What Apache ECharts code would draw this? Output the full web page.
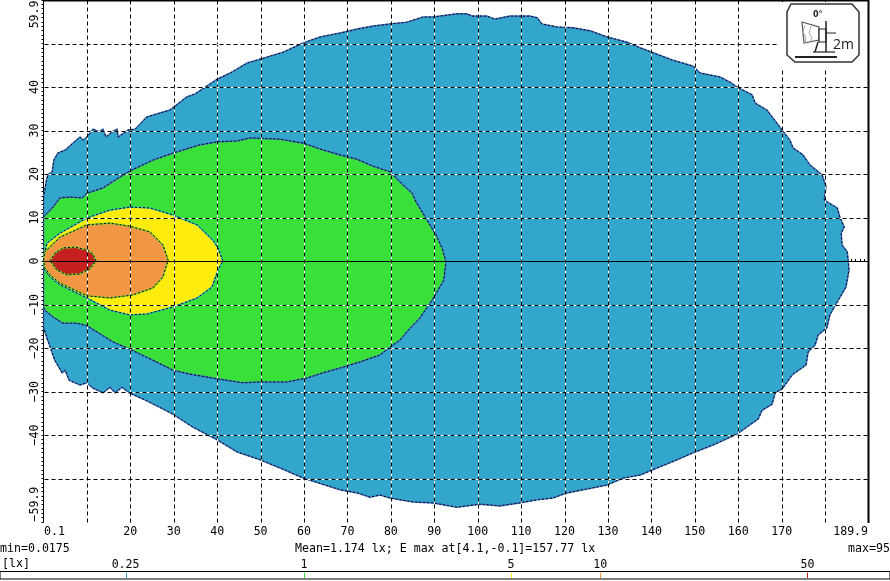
<!DOCTYPE html>
<html><head><meta charset="utf-8">
<style>html,body{margin:0;padding:0;background:#fff}#c{width:890px;height:581px}</style>
<script src="https://cdn.jsdelivr.net/npm/echarts@6/dist/echarts.min.js"></script>
</head><body><div id="c"></div>
<script>
const ZONE_BLUE=[[0,14.5],[0.6,18.2],[1,19.8],[2,20.5],[2.4,23.2],[3.3,24.8],[5,25.5],[6.8,27.1],[8.4,28.5],[9.1,27.8],[10,28.5],[11.4,30.3],[12.8,29.7],[13.7,30.3],[14.4,28.5],[15.8,29.7],[16.9,30.3],[17.2,28.5],[19.5,30.1],[21.1,30.3],[23.8,33.1],[29.1,34.7],[33,37.7],[34.9,38.4],[40,41.8],[43,43.2],[46.9,45.5],[49.9,46.4],[55.2,48],[59.8,50.1],[63.7,51.5],[68.3,52.4],[72.2,53.3],[75.9,54],[79.8,54.5],[83.7,54.9],[87.4,56.1],[89.7,56.1],[95.2,56.8],[97.5,56.8],[98.7,56.3],[102.1,56.3],[104,55.6],[107.4,56.3],[112,56.3],[113.7,55.9],[114.8,54.5],[118.3,53.8],[122,53.6],[125.9,52.9],[129.8,51.5],[134.4,50.3],[137.4,49],[144.8,46.2],[149.6,44.8],[151.2,43.2],[155.8,42.3],[158.1,41.1],[160,39.8],[163.2,38.2],[163.9,36.3],[166.6,34.7],[170.1,30.1],[171.9,27.8],[172.6,26],[174.9,24.4],[176.5,22.1],[179.3,19.8],[180.2,17.2],[179.8,14],[182.8,12.2],[183.4,10.1],[184.4,7.8],[183.7,6.4],[183.9,3.7],[185.1,2.1],[185.3,0.2],[185.5,-2.1],[184.8,-6],[182.8,-9.4],[181.1,-12.4],[180.4,-15.4],[178.4,-17],[177.7,-19.3],[176.1,-20.9],[175.6,-23.9],[172.4,-26.2],[170.1,-29.4],[168.5,-30.3],[167.8,-32.9],[165.5,-34.3],[164.6,-36.3],[159.7,-39.8],[154.2,-42.3],[149.6,-44.1],[145.9,-45.7],[137.4,-49.2],[133.5,-49.9],[129.8,-51.5],[125.2,-52.4],[120.6,-53.3],[117.3,-54.5],[113.7,-54.9],[109.7,-55.6],[105.1,-56.3],[100.5,-55.9],[95.2,-56.6],[89.7,-55.6],[85.1,-55.4],[79.8,-54.5],[77.5,-53.8],[75.2,-54.3],[72.2,-53.3],[68.3,-52.6],[59.8,-49.9],[54.5,-47.6],[49.9,-45.7],[44.6,-43.9],[40,-41.1],[34.4,-38.2],[29.8,-35.2],[26.1,-33.3],[22.9,-31.7],[19.7,-30.3],[18.1,-29],[16.5,-30.3],[15.3,-29],[13.7,-30.3],[11.4,-29.2],[10,-28],[8.4,-28.5],[5.9,-27.4],[5,-25.1],[4.3,-25.7],[2.6,-22.8],[0.8,-17.7],[0,-15.2]];
const ZONE_GREEN=[[0,10.1],[2.2,12.4],[3.8,14.5],[6.1,14.7],[8.9,14.5],[10,15.6],[13.7,16.8],[17.6,19.3],[19.9,20.7],[25.2,23.2],[29.8,24.8],[36,26.7],[40.2,27.4],[44.6,27.6],[47.6,28.3],[54.5,28],[59.8,27.1],[64.4,25.5],[68.3,24.4],[72.2,23.4],[75.9,21.8],[79.8,20.5],[82.8,17.5],[84.9,15.6],[85.8,13.6],[89,8.3],[90.4,6],[91.8,3],[92.7,-0.2],[92.2,-4.4],[89.5,-9],[86.7,-13.1],[84,-15.9],[82.1,-18.2],[79.8,-19.8],[77.5,-21.6],[72.9,-23.2],[68.3,-24.6],[64.4,-25.7],[60.7,-26.9],[56.1,-27.8],[49.9,-27.8],[45.9,-28],[40,-27.1],[33.7,-26],[29.8,-25.1],[25.2,-22.8],[19.7,-20.2],[16,-18.6],[10,-14.9],[7.7,-14.3],[6.1,-14.3],[4.5,-14.3],[2.2,-12.9],[0.3,-11.3],[0,-10.6]];
const ZONE_YELLOW=[[0,-0.2],[0.3,1.8],[0.8,4.1],[3.8,6.4],[10,9.9],[15.3,11.7],[19.9,12.4],[24.5,12.2],[29.8,10.6],[35.4,8.3],[39,4.8],[40.2,3],[41.3,0],[40.2,-2.1],[38.8,-6],[35.4,-8.5],[29.8,-10.6],[23.8,-12.2],[19.9,-12.4],[15.3,-11.3],[10,-8.5],[3.8,-5.5],[1.5,-3.7],[0.3,-2.1]];
const ZONE_ORANGE=[[0,0.2],[0.3,2.1],[3.8,5.5],[10,8.3],[15.3,8.7],[19.9,8],[24.5,6.7],[27.5,3.7],[28.7,0.2],[27.5,-3.7],[25.2,-6.2],[20.6,-7.8],[15.3,-8.5],[10,-8],[3.8,-5.1],[1.5,-3.2],[0.3,-1.6]];
const ZONE_RED=[[1.5,0],[2.6,1.8],[4.5,3],[7.3,3.2],[10.2,2.5],[11.4,1.6],[12.1,0],[10.7,-1.8],[8.4,-3],[5.4,-3.2],[3.1,-2.1]];
const X_LABELS=[0.1,20,30,40,50,60,70,80,90,100,110,120,130,140,150,160,170,189.9];
const Y_LABELS=[-59.9,-40,-30,-20,-10,0,10,20,30,40,59.9];
const GRID_X=[10,20,30,40,50,60,70,80,90,100,110,120,130,140,150,160,170,180];
const GRID_Y=[-50,-40,-30,-20,-10,10,20,30,40,50];
const LEVELS=[0.25,1,5,10,50];
const LEVEL_COLORS=['#33a6cc','#39e03a','#ffec0f','#f39644','#c4201f'];
const FONT='"DejaVu Sans Mono"';
const FS=11.6;

function zone(data,fill,edge,z){
  return {type:'custom',coordinateSystem:'cartesian2d',xAxisIndex:0,yAxisIndex:0,z:z,silent:true,clip:true,
    encode:{x:0,y:1},data:data,
    renderItem:function(p,api){
      if(p.dataIndex!==0) return null;
      const pts=data.map(d=>api.coord(d));
      return {type:'group',children:[
        {type:'polygon',shape:{points:pts},style:{fill:fill,stroke:edge,lineWidth:1.6}},
        {type:'polygon',shape:{points:pts},style:{fill:'none',stroke:'#000',lineWidth:1,lineDash:[2,2]}}
      ]};
    }};
}
function gridSeries(data,vertical){
  return {type:'custom',coordinateSystem:'cartesian2d',xAxisIndex:0,yAxisIndex:0,z:20,silent:true,
    encode:vertical?{x:0}:{y:0},data:data,
    renderItem:function(p,api){
      const v=api.value(0);
      const a=vertical?api.coord([v,60]):api.coord([0,v]);
      const b=vertical?api.coord([v,-60]):api.coord([190,v]);
      const s={x1:Math.round(a[0])+.5,y1:Math.round(a[1])+.5,x2:Math.round(b[0])+.5,y2:Math.round(b[1])+.5};
      return {type:'group',children:[
        {type:'line',shape:s,style:{stroke:'#fff',lineWidth:1}},
        {type:'line',shape:s,style:{stroke:'#000',lineWidth:1,lineDash:[4,3]}}
      ]};
    }};
}
const tx=(t,x,y,o)=>Object.assign({type:'text',z:103,silent:true,x:x,y:y,style:{text:t,font:FS+'px '+FONT,fill:'#000',textVerticalAlign:'middle'}},o||{});
const ln=(x1,y1,x2,y2,w,c)=>({type:'line',z:102,silent:true,shape:{x1,y1,x2,y2},style:{stroke:c||'#222',lineWidth:w||1}});

const chart=echarts.init(document.getElementById('c'),null,{renderer:'canvas'});
chart.setOption({
  animation:false,
  backgroundColor:'#fff',
  grid:[
    {left:43.5,top:0,width:825,height:522,show:false,outerBoundsMode:'none'},
    {left:0,top:571.5,width:890,height:7.5,show:true,backgroundColor:'#fff',borderColor:'#000',borderWidth:1,outerBoundsMode:'none'}
  ],
  xAxis:[
    {type:'value',gridIndex:0,min:0,max:190,interval:10,offset:1,silent:true,
      splitLine:{show:false},
      axisLine:{show:true,lineStyle:{color:'#000'}},
      axisTick:{show:true,inside:true,length:2,lineStyle:{color:'#000'}},
      minorTick:{show:true,splitNumber:10,length:2,lineStyle:{color:'#000'}},
      axisLabel:{show:true,customValues:X_LABELS,color:'#000',fontFamily:FONT,fontSize:FS,margin:3,
        alignMinLabel:'left',alignMaxLabel:'right',hideOverlap:false,showMinLabel:true,showMaxLabel:true,
        formatter:v=>String(v)}},
    {type:'log',gridIndex:1,min:0.0942,max:95,position:'top',silent:true,
      splitLine:{show:false},axisLine:{show:false},axisTick:{show:false},minorTick:{show:false},
      axisLabel:{show:true,customValues:LEVELS,color:'#000',fontFamily:FONT,fontSize:FS,margin:1,
        formatter:v=>String(v)}}
  ],
  yAxis:[
    {type:'value',gridIndex:0,min:-60,max:60,interval:10,silent:true,
      splitLine:{show:false},
      axisLine:{show:true,onZero:false,lineStyle:{color:'#000'}},
      axisTick:{show:true,length:2,lineStyle:{color:'#000'}},
      minorTick:{show:true,splitNumber:10,length:2,lineStyle:{color:'#000'}},
      axisLabel:{show:true,customValues:Y_LABELS,color:'#000',fontFamily:FONT,fontSize:FS,margin:3,rotate:90,
        alignMinLabel:'left',alignMaxLabel:'right',hideOverlap:false,showMinLabel:true,showMaxLabel:true,
        formatter:v=>String(v).replace('-','\u2212')}},
    {type:'value',gridIndex:1,min:0,max:1,show:false}
  ],
  series:[
    zone(ZONE_BLUE,'#33a6cc','#3e74c8',2),
    zone(ZONE_GREEN,'#39e03a','#3e74c8',3),
    zone(ZONE_YELLOW,'#ffec0f','#2fc0c0',4),
    zone(ZONE_ORANGE,'#f39644','#7fd030',5),
    zone(ZONE_RED,'#c4201f','#7fd030',6),
    gridSeries(GRID_X,true),
    gridSeries(GRID_Y,false),
    {type:'custom',coordinateSystem:'cartesian2d',xAxisIndex:0,yAxisIndex:0,z:21,silent:true,encode:{y:0},data:[0],
      renderItem:function(p,api){
        const a=api.coord([0,0]),b=api.coord([190,0]);
        return {type:'line',shape:{x1:a[0],y1:Math.floor(a[1])+.5,x2:b[0],y2:Math.floor(b[1])+.5},style:{stroke:'#000',lineWidth:1}};
      }},
    {type:'custom',coordinateSystem:'cartesian2d',xAxisIndex:1,yAxisIndex:1,z:5,silent:true,encode:{x:0},data:LEVELS,
      renderItem:function(p,api){
        const a=api.coord([api.value(0),0]),b=api.coord([api.value(0),1]);
        return {type:'line',shape:{x1:Math.round(a[0])+.5,y1:a[1]-1,x2:Math.round(a[0])+.5,y2:b[1]+1},style:{stroke:LEVEL_COLORS[p.dataIndex],lineWidth:1}};
      }}
  ],
  graphic:[
    {type:'rect',z:100,silent:true,shape:{x:779,y:2,width:89,height:68},style:{fill:'#fff'}},
    ln(43.5,.5,868.5,.5,2,'#000'),
    ln(868.5,0,868.5,523,2,'#000'),
    {type:'polygon',z:102,silent:true,shape:{points:[[791,4],[852,4],[859,12],[859,55],[852,62],[795,62],[787,55],[787,12]]},style:{fill:'#fff',stroke:'#333',lineWidth:1.5}},
    tx('0\u00b0',813,15,{style:{text:'0\u00b0',font:'bold 8px "DejaVu Sans"',fill:'#222',textVerticalAlign:'middle'}}),
    tx('2m',833,45,{style:{text:'2m',font:'14px "Open Sans"',fill:'#222',textVerticalAlign:'middle'}}),
    {type:'polygon',z:103,silent:true,shape:{points:[[802,22],[819,27],[819,40],[804,43]]},style:{fill:'#fff',stroke:'#555',lineWidth:1.2}},
    {type:'polyline',z:104,silent:true,shape:{points:[[805,25],[803,32],[806,38],[805,43]]},style:{fill:'none',stroke:'#aaa',lineWidth:1}},
    {type:'polyline',z:104,silent:true,shape:{points:[[811,26],[809,33],[812,38],[810,42]]},style:{fill:'none',stroke:'#aaa',lineWidth:1}},
    {type:'rect',z:104,silent:true,shape:{x:819,y:29,width:7,height:13},style:{fill:'#fff',stroke:'#222',lineWidth:1.2}},
    Object.assign(ln(826,21,826,52,1.5),{z:105}),
    Object.assign(ln(826,33,836,33,1),{z:105}),
    Object.assign(ln(818,42,815,52,1.5),{z:105}),
    Object.assign(ln(813,52,835,52,1.2),{z:105}),
    Object.assign(ln(795,57,837,57,2),{z:105}),
    tx('min=0.0175',0,549),
    tx('Mean=1.174 lx; E max at[4.1,-0.1]=157.77 lx',295,549),
    tx('max=95',848,549),
    tx('[lx]',2,564)
  ]
});
</script></body></html>
